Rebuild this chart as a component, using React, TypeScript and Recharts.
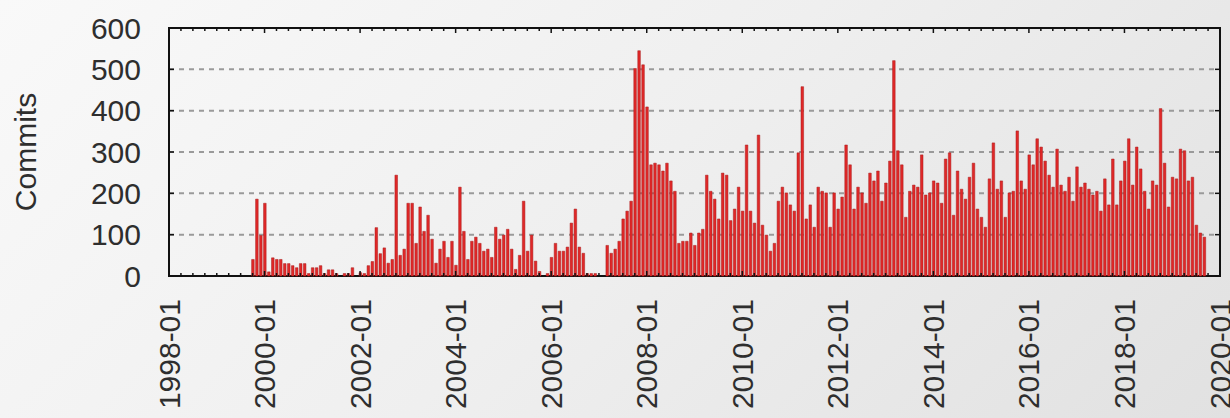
import { Bar, BarChart, CartesianGrid, ReferenceArea, XAxis, YAxis } from 'recharts';

// monthly commit counts, 1998-01 .. 2019-12 (one row per year)
const commits = [
  0, 0, 0, 0, 0, 0, 0, 0, 0, 0, 0, 0,
  0, 0, 0, 0, 0, 0, 0, 0, 0, 40, 186, 98,
  176, 10, 44, 40, 40, 30, 30, 25, 20, 30, 30, 6,
  20, 20, 25, 6, 15, 15, 6, 0, 6, 6, 20, 0,
  8, 6, 25, 35, 117, 54, 68, 31, 40, 244, 50, 65,
  176, 176, 79, 167, 108, 147, 89, 31, 65, 84, 45, 84,
  26, 215, 108, 40, 84, 94, 79, 60, 65, 45, 118, 89,
  99, 113, 65, 16, 50, 181, 60, 99, 36, 11, 0, 6,
  45, 79, 60, 60, 70, 128, 162, 70, 55, 6, 6, 6,
  0, 0, 74, 55, 65, 84, 138, 157, 181, 502, 545, 511,
  409, 269, 273, 269, 254, 273, 230, 205, 79, 84, 84, 104,
  74, 104, 113, 244, 205, 186, 138, 249, 244, 134, 162, 215,
  157, 317, 157, 128, 341, 123, 99, 60, 79, 181, 215, 201,
  172, 157, 298, 458, 138, 172, 118, 215, 205, 201, 118, 201,
  162, 191, 317, 269, 162, 215, 201, 176, 249, 230, 254, 181,
  225, 278, 521, 303, 269, 142, 205, 220, 215, 293, 196, 201,
  230, 225, 176, 283, 298, 147, 254, 210, 186, 239, 273, 162,
  142, 118, 235, 322, 210, 230, 142, 201, 205, 351, 230, 210,
  293, 269, 332, 312, 278, 244, 215, 307, 220, 205, 239, 181,
  264, 215, 225, 210, 196, 205, 157, 235, 172, 283, 172, 230,
  278, 332, 220, 312, 259, 205, 162, 230, 220, 405, 273, 167,
  239, 235, 307, 303, 230, 239, 123, 104, 94, 0, 0, 0,
];

const yearLabels = [
  '1998-01', '2000-01', '2002-01', '2004-01', '2006-01', '2008-01',
  '2010-01', '2012-01', '2014-01', '2016-01', '2018-01', '2020-01',
];

const yTicks = [0, 100, 200, 300, 400, 500, 600];

const monthCount = 264;
const quarterTicks = Array.from({ length: monthCount / 3 + 1 }, (_, i) => i * 3);
const chartData = commits.map((value, idx) => ({ idx, commits: value }));

const width = 1230;
const height = 418;
const margin = { top: 28, right: 10, left: 0, bottom: 0 };
const yAxisWidth = 169;
const xAxisHeight = 142;
const plotW = width - margin.left - margin.right - yAxisWidth;
const plotH = height - margin.top - margin.bottom - xAxisHeight;

const font = '"Liberation Sans", Arial, sans-serif';
const textColor = '#2e2e2e';

const XTick = (props: any) => {
  const { x, y, payload } = props;
  const v = payload.value as number;
  const major = v % 24 === 0;
  const len = major ? 5 : 3;
  return (
    <g>
      <line x1={x} x2={x} y1={y} y2={y - len} stroke="#111" strokeWidth={1.5} />
      <line x1={x} x2={x} y1={y - plotH} y2={y - plotH + len} stroke="#111" strokeWidth={1.5} />
      {major && (
        <text
          transform={`translate(${x},${y + 23}) rotate(-90)`}
          textAnchor="end"
          dy="0.35em"
          fontSize={30}
          fontFamily={font}
          fill={textColor}
        >
          {yearLabels[v / 24]}
        </text>
      )}
    </g>
  );
};

const YTick = (props: any) => {
  const { x, y, payload } = props;
  return (
    <g>
      <line x1={x} x2={x + 5} y1={y} y2={y} stroke="#111" strokeWidth={1.5} />
      <line x1={x + plotW - 5} x2={x + plotW} y1={y} y2={y} stroke="#111" strokeWidth={1.5} />
      <text x={x - 28} y={y} dy="0.35em" textAnchor="end" fontSize={30} fontFamily={font} fill={textColor}>
        {payload.value}
      </text>
    </g>
  );
};

const AxisTitle = (props: any) => {
  const { viewBox } = props;
  const cx = 25;
  const cy = viewBox.y + viewBox.height / 2;
  return (
    <text
      transform={`translate(${cx},${cy}) rotate(-90)`}
      textAnchor="middle"
      dy="0.35em"
      fontSize={30}
      fontFamily={font}
      fill={textColor}
    >
      Commits
    </text>
  );
};

export default function App() {
  return (
    <div
      style={{
        position: 'absolute',
        left: 0,
        top: 0,
        width,
        height,
        background: 'linear-gradient(135deg, #f9f9f9 0%, #efefef 50%, #e1e1e1 100%)',
      }}
    >
      <BarChart width={width} height={height} data={chartData} margin={margin}>
        <CartesianGrid vertical={false} stroke="#9a9a9a" strokeWidth={2} strokeDasharray="5 5" />
        <XAxis
          type="number"
          dataKey="idx"
          domain={[0, monthCount]}
          ticks={quarterTicks}
          interval={0}
          height={xAxisHeight}
          tickLine={false}
          axisLine={false}
          tickSize={0}
          tickMargin={0}
          tick={(p: any) => <XTick {...p} />}
        />
        <YAxis
          domain={[0, 600]}
          ticks={yTicks}
          interval={0}
          width={yAxisWidth}
          tickLine={false}
          axisLine={false}
          tickSize={0}
          tickMargin={0}
          tick={(p: any) => <YTick {...p} />}
          label={(p: any) => <AxisTitle {...p} />}
        />
        <Bar
          dataKey="commits"
          barSize={2.6}
          fill="#e02828"
          stroke="#a81c1c"
          strokeWidth={0.5}
          isAnimationActive={false}
        />
        <ReferenceArea
          x1={0}
          x2={monthCount}
          y1={0}
          y2={600}
          fill="none"
          stroke="#111"
          strokeWidth={2}
          ifOverflow="visible"
        />
      </BarChart>
    </div>
  );
}
